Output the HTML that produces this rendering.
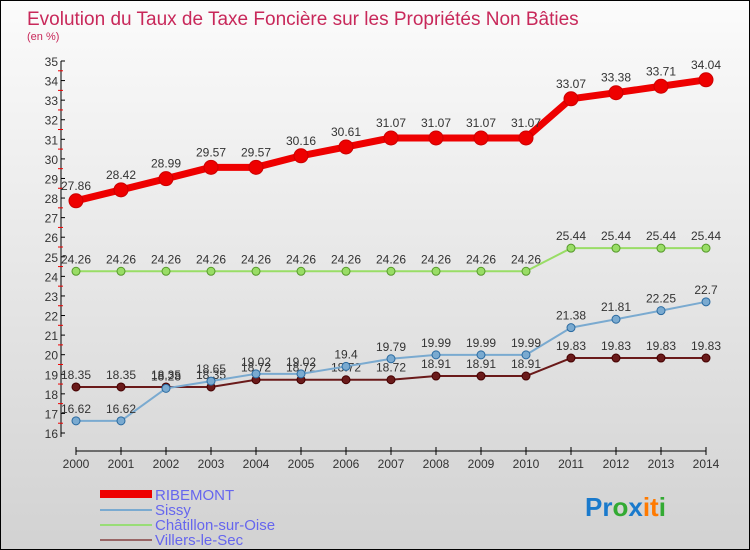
<!DOCTYPE html>
<html><head><meta charset="utf-8"><style>
body{margin:0;}
#wrap{position:relative;width:748px;height:548px;border:1px solid #000;background:linear-gradient(#fbfbfb,#d2d2d2);font-family:"Liberation Sans",sans-serif;overflow:hidden}
svg{position:absolute;left:0;top:0}
</style></head><body>
<div id="wrap">
<svg id="c" width="748" height="548">
<text x="26" y="24" font-size="19" fill="#c8285a">Evolution du Taux de Taxe Foncière sur les Propriétés Non Bâties</text>
<text x="26" y="39" font-size="11" fill="#c8285a">(en %)</text>
<g id="g"></g>
<g>
<rect x="99" y="489" width="52" height="8" fill="#e00"/>
<text x="154" y="499" font-size="15" fill="#6666ee">RIBEMONT</text>
<rect x="99" y="508" width="52" height="2" fill="#7aaad0"/>
<text x="154" y="514" font-size="15" fill="#6666ee">Sissy</text>
<rect x="99" y="523" width="52" height="2" fill="#99dd77"/>
<text x="154" y="529" font-size="15" fill="#6666ee">Châtillon-sur-Oise</text>
<rect x="99" y="538" width="52" height="2" fill="#996666"/>
<text x="154" y="544" font-size="15" fill="#6666ee">Villers-le-Sec</text>
</g>
<g font-size="26" font-weight="bold">
<text x="584" y="515"><tspan fill="#1a7acc">Pr</tspan><tspan fill="#33aa33">o</tspan><tspan fill="#1a7acc">x</tspan><tspan fill="#ff7a00">it</tspan><tspan fill="#33aa33">i</tspan></text>
</g>
</svg>
</div>
<script>
const years=[2000,2001,2002,2003,2004,2005,2006,2007,2008,2009,2010,2011,2012,2013,2014];
const ribemont=[27.86,28.42,28.99,29.57,29.57,30.16,30.61,31.07,31.07,31.07,31.07,33.07,33.38,33.71,34.04];
const sissy=[16.62,16.62,18.28,18.65,19.02,19.02,19.4,19.79,19.99,19.99,19.99,21.38,21.81,22.25,22.7];
const chatillon=[24.26,24.26,24.26,24.26,24.26,24.26,24.26,24.26,24.26,24.26,24.26,25.44,25.44,25.44,25.44];
const villers=[18.35,18.35,18.35,18.35,18.72,18.72,18.72,18.72,18.91,18.91,18.91,19.83,19.83,19.83,19.83];
const yTicks=[16,17,18,19,20,21,22,23,24,25,26,27,28,29,30,31,32,33,34,35];
const NS="http://www.w3.org/2000/svg";
const g=document.getElementById('g');
const yMin=16,yMax=35,yTop=60,yBot=432;
function ys(v){return yBot-(v-yMin)/(yMax-yMin)*(yBot-yTop);}
function xs(i){return 75+i*(705-75)/(years.length-1);}
function mk(t,a){const e=document.createElementNS(NS,t);for(const k in a)e.setAttribute(k,a[k]);g.appendChild(e);return e;}
let e=mk('line',{x1:60,y1:yTop,x2:60,y2:yBot+4,stroke:'#000'});


yTicks.forEach(v=>{
 mk('line',{x1:60,y1:ys(v),x2:64,y2:ys(v),stroke:'#000'});
 if(v<yMax){const r=mk('line',{x1:57,y1:ys(v+0.5),x2:62,y2:ys(v+0.5),stroke:'#e00'});}
 const t=mk('text',{x:57,y:ys(v)+5,'font-size':12,fill:'#333','text-anchor':'end'});t.textContent=v;
 
 
});
e=mk('line',{x1:75,y1:450,x2:705,y2:450,stroke:'#000'});


years.forEach((y,i)=>{
 mk('line',{x1:xs(i),y1:446,x2:xs(i),y2:454,stroke:'#000'});
 const t=mk('text',{x:xs(i),y:467,'font-size':12,fill:'#333','text-anchor':'middle'});t.textContent=y;
 
 
});
function series(d,name,col,dark,w,r,fs){
 const pts=d.map((v,i)=>xs(i)+','+ys(v)).join(' ');
 const l=mk('polyline',{points:pts,fill:'none',stroke:col,'stroke-width':w,'stroke-linejoin':'round'});
 
 
 d.forEach((v,i)=>{
  const c=mk('circle',{cx:xs(i),cy:ys(v),r:r,fill:col,stroke:dark,'stroke-width':1});
  
  
  const t=mk('text',{x:xs(i),y:ys(v)-r-4,'font-size':fs,fill:'#333','text-anchor':'middle'});t.textContent=v;
  
  
 });
}
series(chatillon,'chatillon','#99dd66','#55992a',2,4,12);
series(villers,'villers','#6a1a1a','#400',2,4,12);
series(sissy,'sissy','#7aaad0','#2a6aa0',2,4,12);
series(ribemont,'ribemont','#e00','#c00',7,7,12);
</script>
</body></html>
